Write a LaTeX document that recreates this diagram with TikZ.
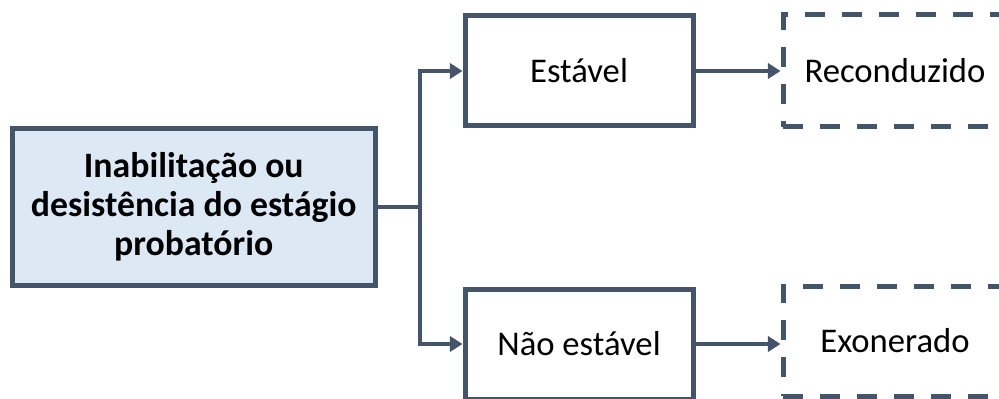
\documentclass[tikz,border=0pt]{standalone}
\usepackage{fontspec}
\setmainfont{Carlito}
\usetikzlibrary{arrows.meta}
\definecolor{slate}{HTML}{44546A}
\definecolor{paleblue}{HTML}{DDE8F5}
\tikzset{
  box/.style={draw=slate, line width=3.75pt, rectangle, align=center, inner sep=0pt, font=\fontsize{26pt}{29pt}\selectfont},
  mainbox/.style={box, fill=paleblue, font=\fontsize{26.8pt}{29pt}\selectfont\bfseries},
  dashbox/.style={box, dash pattern=on 15pt off 12.75pt},
  conn/.style={draw=slate, line width=3pt},
  arr/.style={conn, -{Triangle[length=9.5pt,width=11.5pt]}}
}
\begin{document}
\begin{tikzpicture}[x=0.75pt,y=-0.75pt]
\useasboundingbox (0,0) rectangle (999,399);
\clip (0,0) rectangle (999,399);
\node[mainbox, minimum width=363.5*0.75pt, minimum height=156.5*0.75pt] (src) at (193.75,206.75)
  {Inabilitação ou\\desistência do estágio\\probatório};
\node[box, minimum width=228*0.75pt, minimum height=110*0.75pt] (st) at (579,71) {Estável};
\node[box, minimum width=228*0.75pt, minimum height=110*0.75pt] (ne) at (579,344) {Não estável};
\node[dashbox, minimum width=224*0.75pt, minimum height=112*0.75pt] (rc) at (895,71) {Reconduzido};
\node[dashbox, minimum width=224*0.75pt, minimum height=110*0.75pt] (ex) at (895,341) {Exonerado};
\coordinate (j) at (420,206.75);
\draw[conn] (src.east) -- (j);
\draw[arr] (j) |- (st.west);
\draw[arr] (j) |- (ne.west);
\draw[arr] (st.east) -- (st.east -| rc.west);
\draw[arr] (ne.east) -- (ne.east -| ex.west);
\end{tikzpicture}
\end{document}
